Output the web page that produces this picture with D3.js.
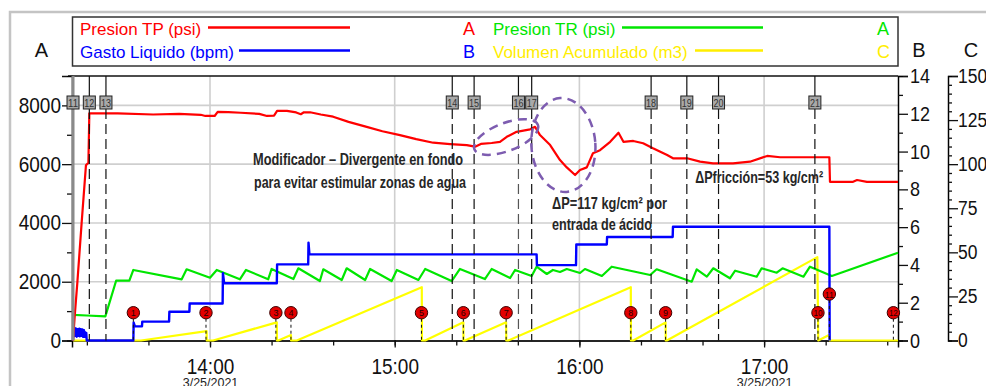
<!DOCTYPE html>
<html>
<head>
<meta charset="utf-8">
<script src="https://cdn.jsdelivr.net/npm/d3@7"></script>
<style>
  html, body { margin: 0; padding: 0; background: #fff; }
  svg { display: block; font-family: "Liberation Sans", Arial, sans-serif; }
</style>
</head>
<body>
<svg id="chart" width="986" height="386"></svg>
<script>
// Times are minutes after 13:00 on 3/25/2021.

// Presion TP (psi) - axis A
const presionTP = [
  [15.5, 0], [16.1, 900], [16.9, 1960], [18.3, 4000], [19.7, 5960], [20.5, 6050], [20.8, 7730],
  [30, 7730], [41.5, 7690], [50, 7710], [57, 7680], [58.5, 7640], [61.5, 7640], [62.5, 7780],
  [66, 7770], [70, 7750], [76, 7710], [78.5, 7640], [80.8, 7650], [81.8, 7810], [85, 7815],
  [88, 7760], [89.5, 7700], [90.5, 7765], [92.5, 7765], [96, 7690], [100, 7615], [105, 7440],
  [110.9, 7270], [116, 7120], [121.7, 6990], [127, 6850], [132.5, 6730], [138, 6685],
  [143.4, 6650], [146.1, 6595], [148, 6690], [151.5, 6720], [154.2, 6760], [156.4, 6930],
  [159.6, 7100], [164, 7185], [165.6, 7270], [167.2, 6990], [170.5, 6650], [173.7, 6140],
  [175.9, 5890], [178.6, 5630], [180.2, 5800], [182.4, 5890], [184.4, 6370], [186.7, 6475],
  [190, 6760], [192.7, 7070], [194.3, 6760], [197.5, 6790], [200.7, 6710], [203.9, 6540],
  [208.5, 6310], [210.4, 6200], [215, 6200], [219.2, 6085], [223.4, 6030], [229.9, 6030],
  [235.4, 6085], [241, 6280], [245.2, 6235], [261.2, 6235], [261.4, 5400], [268.9, 5400],
  [270.2, 5460], [273.4, 5400], [283.5, 5400]
];

// Presion TR (psi) - axis A
const presionTR = [
  [15.5, 870], [20, 850], [26, 820], [29.5, 2035], [33.8, 2035], [35.1, 2400], [50.8, 2082],
  [52.4, 2423], [60, 2137], [62.2, 2400], [69.7, 2082], [71.7, 2400], [78.9, 2082], [80, 2433],
  [87.1, 2090], [88.7, 2457], [95.7, 2024], [96.8, 2423], [102.8, 2059], [104.4, 2457],
  [110.4, 2059], [112, 2433], [119, 2024], [120.7, 2400], [127.7, 2059], [129.9, 2433],
  [138.5, 2024], [141.2, 2433], [149.3, 2090], [151.5, 2433], [157.5, 2127], [159.1, 2400],
  [164.5, 2195], [166.1, 2511], [169.4, 2263], [171.4, 2400], [173.7, 2331], [175.9, 2433],
  [180.2, 2297], [181.8, 2433], [187.3, 2195], [190.5, 2511], [203, 2229], [205.1, 2423],
  [216.5, 2001], [218.1, 2423], [221.4, 2171], [223.5, 2457], [228.9, 2116], [230.6, 2375],
  [237.6, 2171], [239.2, 2457], [244.1, 2307], [246, 2457], [252.8, 2171], [254.9, 2511],
  [262, 2195], [283.5, 2987]
];

// Gasto Liquido (bpm) - axis B
const gastoLiquido = [
  [15.5, 0], [15.55, 0.62], [15.7, 0.2], [15.8, 0.6], [15.95, 0.3], [16.05, 0.66], [16.2, 0.25],
  [16.3, 0.58], [16.45, 0.35], [16.55, 0.63], [16.7, 0.2], [16.8, 0.55], [16.95, 0.3],
  [17.05, 0.6], [17.2, 0.25], [17.3, 0.57], [17.45, 0.3], [17.55, 0.62], [17.7, 0.22],
  [17.8, 0.55], [17.95, 0.35], [18.05, 0.6], [18.2, 0.25], [18.3, 0.5], [18.45, 0.3],
  [18.55, 0.58], [18.7, 0.2], [18.8, 0.52], [18.95, 0.28], [19.05, 0.55], [19.2, 0.2],
  [19.3, 0.45], [19.45, 0.25], [19.55, 0.42], [19.7, 0.2], [19.8, 0.4], [19.95, 0],
  [35.1, 0], [35.2, 0.95], [35.6, 0.75], [37.9, 0.75], [38.0, 1.0], [46.7, 1.0], [46.8, 1.52],
  [53.3, 1.52], [53.4, 1.96], [64.1, 1.96], [64.2, 3.56], [64.6, 3.03], [81.7, 3.03],
  [81.8, 4.03], [91.9, 4.03], [92.0, 5.18], [92.3, 4.56], [166.1, 4.56], [166.2, 3.99],
  [178.9, 3.99], [179.0, 5.08], [188.9, 5.08], [189.0, 5.48], [210.3, 5.48], [210.4, 6.02],
  [261.2, 6.02], [261.3, 0]
];

// Volumen Acumulado (m3) - axis C
const volumenAcumulado = [
  [15.5, 0], [37.6, 0], [58.9, 5.3], [58.95, 0], [61, 0], [81.7, 10.3], [81.75, 0], [82.2, 0],
  [86.3, 3.1], [86.35, 0], [88.2, 0], [128.8, 30.2], [128.85, 0], [129.9, 0], [142.3, 10.3],
  [142.35, 0], [142.8, 0], [156.2, 10.3], [156.25, 0], [156.9, 0], [196.7, 30.2], [196.75, 0],
  [197.5, 0], [208, 10.3], [208.05, 0], [208.4, 0], [257.3, 47.3], [257.6, 0], [261.1, 3.1],
  [261.4, 0], [283.5, 0]
];

// Event marker lines (label, time)
const eventLabels = ["11", "12", "13", "14", "15", "16", "17", "18", "19", "20", "21"];
const eventTimes = [15.5, 20.8, 26.2, 138.7, 145.8, 160.2, 164.5, 203.3, 214.9, 225.2, 256.5];

// Stage markers (label, time, level on axis B)
const stageLabels = ["1", "2", "3", "4", "5", "6", "7", "8", "9", "10", "11", "12"];
const stageTimes = [35.1, 58.7, 81.4, 86.3, 128.7, 142.3, 156.2, 196.7, 208.0, 257.5, 261.2, 282.0];
const stageLevels = [1.47, 1.47, 1.47, 1.47, 1.47, 1.47, 1.47, 1.47, 1.47, 1.47, 2.46, 1.47];

// Axis ticks
const ticksA = [0, 2000, 4000, 6000, 8000];
const minorA = [1000, 3000, 5000, 7000];
const ticksB = [0, 2, 4, 6, 8, 10, 12, 14];
const minorB = [1, 3, 5, 7, 9, 11, 13];
const ticksC = [0, 25, 50, 75, 100, 125, 150];
const minorC = d3.range(5, 150, 5).filter(v => v % 25 !== 0);
const dateLabel = "3/25/2021";
const dateHours = [14, 17];

const T0 = new Date(2021, 2, 25, 13, 0, 0);
const t = m => new Date(T0.getTime() + m * 60000);

const L = 72, R = 898, TOP = 76, BOT = 340.5, CX = 948;
const svg = d3.select("#chart");

const x = d3.scaleTime().domain([t(15.17), t(283.5)]).range([L, R]);
const yA = d3.scaleLinear().domain([0, 9000]).range([BOT, TOP]);
const yB = d3.scaleLinear().domain([0, 14]).range([BOT, TOP]);
const yC = d3.scaleLinear().domain([0, 150]).range([BOT, TOP]);

// tall, slightly condensed look for axis numbers
function stretch(sel, k) {
  sel.each(function () {
    const e = d3.select(this);
    const tx = +e.attr("x") || 0, ty = +e.attr("y") || 0;
    e.attr("x", 0).attr("y", 0).attr("transform", `translate(${tx},${ty}) scale(1,${k})`);
  });
}

// outer frame
svg.append("path").attr("d", "M10,386V12H986")
  .attr("fill", "none").attr("stroke", "#c4c4c4").attr("stroke-width", 2.5);

// grid
const grid = svg.append("g").attr("stroke", "#cfcfcf").attr("stroke-width", 1.6);
grid.selectAll("line.h").data([2000, 4000, 6000, 8000]).join("line")
  .attr("x1", L).attr("x2", R).attr("y1", d => yA(d)).attr("y2", d => yA(d));
grid.selectAll("line.v").data(x.ticks(d3.timeHour.every(1))).join("line")
  .attr("x1", d => x(d)).attr("x2", d => x(d)).attr("y1", TOP).attr("y2", BOT);

// plot frame
svg.append("line").attr("x1", 68).attr("x2", R).attr("y1", TOP).attr("y2", TOP)
  .attr("stroke", "#111").attr("stroke-width", 1.5);

// axes
function styleAxis(g) {
  g.select(".domain").attr("stroke", "#111").attr("stroke-width", 1.5);
  g.selectAll(".tick line").attr("stroke", "#111").attr("stroke-width", 1.3);
  g.selectAll("text").attr("fill", "#111").attr("font-family", "Liberation Sans, Arial, sans-serif");
}

const gA = svg.append("g").attr("transform", `translate(${L},0)`)
  .call(d3.axisLeft(yA).tickValues(ticksA).tickSize(10).tickPadding(1).tickFormat(d3.format("d")));
gA.append("g").call(d3.axisLeft(yA).tickValues(minorA).tickSize(5).tickFormat(""));
gA.selectAll("text").attr("font-size", 19);
styleAxis(gA);
stretch(gA.selectAll("text"), 1.15);

const gB = svg.append("g").attr("transform", `translate(${R},0)`)
  .call(d3.axisRight(yB).tickValues(ticksB).tickSize(10).tickPadding(2).tickFormat(d3.format("d")));
gB.append("g").call(d3.axisRight(yB).tickValues(minorB).tickSize(5).tickFormat(""));
gB.selectAll("text").attr("font-size", 18);
styleAxis(gB);
stretch(gB.selectAll("text"), 1.15);

const gC = svg.append("g").attr("transform", `translate(${CX},0)`)
  .call(d3.axisRight(yC).tickValues(ticksC).tickSize(10).tickPadding(0).tickFormat(d3.format("d")));
gC.append("g").call(d3.axisRight(yC).tickValues(minorC).tickSize(4).tickFormat(""));
gC.selectAll("text").attr("font-size", 17.5);
styleAxis(gC);
stretch(gC.selectAll("text"), 1.15);

const gX = svg.append("g").attr("transform", `translate(0,${BOT})`)
  .call(d3.axisBottom(x).ticks(d3.timeHour.every(1)).tickSize(7).tickPadding(10.5)
    .tickFormat(d3.timeFormat("%H:%M")));
const majorTicks = gX.selectAll(":scope > .tick");
gX.append("g").call(d3.axisBottom(x).ticks(d3.timeMinute.every(20)).tickSize(5).tickFormat(""));
gX.selectAll("text").attr("font-size", 19);
styleAxis(gX);
stretch(gX.selectAll("text"), 1.2);
majorTicks.filter(d => dateHours.includes(d.getHours()))
  .append("text").attr("y", 46.5).attr("text-anchor", "middle")
  .attr("font-size", 12.5).attr("fill", "#222").text(dateLabel);

// axis headers
svg.append("g").attr("font-size", 20).attr("fill", "#111").attr("text-anchor", "middle")
  .selectAll("text").data([["A", 41.5], ["B", 919], ["C", 971]]).join("text")
  .attr("x", d => d[1]).attr("y", 56.5).text(d => d[0]);

// event lines
const evG = svg.append("g");
eventTimes.forEach((m, i) => {
  const xx = x(t(m));
  if (i === 0) {
    evG.append("line").attr("x1", xx).attr("x2", xx).attr("y1", TOP).attr("y2", BOT)
      .attr("stroke", "#8a8a8a").attr("stroke-width", 3);
  } else {
    evG.append("line").attr("x1", xx).attr("x2", xx).attr("y1", TOP).attr("y2", 96)
      .attr("stroke", "#111").attr("stroke-width", 1.2);
    evG.append("line").attr("x1", xx).attr("x2", xx).attr("y1", 109).attr("y2", BOT)
      .attr("stroke", i === 5 ? "#555" : "#111").attr("stroke-width", 1.2)
      .attr("stroke-dasharray", "10,5");
  }
});

// series
const line = (ys) => d3.line().x(d => x(t(d[0]))).y(d => ys(d[1]));
const series = [
  [volumenAcumulado, yC, "#ffff00", 2.2],
  [presionTR, yA, "#00e600", 2.2],
  [gastoLiquido, yB, "#0000ff", 2.4],
  [presionTP, yA, "#ff0000", 2.2]
];
series.forEach(([data, ys, color, w]) => {
  svg.append("path").datum(data).attr("d", line(ys))
    .attr("fill", "none").attr("stroke", color).attr("stroke-width", w)
    .attr("stroke-linejoin", "round");
});

// event label boxes
eventTimes.forEach((m, i) => {
  const xx = x(t(m));
  const g = evG.append("g").attr("transform", `translate(${xx},102.5)`);
  g.append("rect").attr("x", -6).attr("y", -6.5).attr("width", 12).attr("height", 13)
    .attr("fill", "#a9a9a9").attr("stroke", "#222").attr("stroke-width", 1);
  g.append("text").attr("text-anchor", "middle").attr("y", 4)
    .attr("font-size", 10.5).attr("fill", "#333").attr("textLength", 10)
    .attr("lengthAdjust", "spacingAndGlyphs").text(eventLabels[i]);
});
evG.raise();

// stage markers
const stG = svg.append("g");
stageTimes.forEach((m, i) => {
  const xx = x(t(m)), yy = yB(stageLevels[i]);
  stG.append("line").attr("x1", xx).attr("x2", xx).attr("y1", yy + 6).attr("y2", BOT)
    .attr("stroke", "#111").attr("stroke-width", 1).attr("stroke-dasharray", "3,3");
  stG.append("circle").attr("cx", xx).attr("cy", yy).attr("r", 6.2)
    .attr("fill", "#e30000").attr("stroke", "#3a0000").attr("stroke-width", 1);
  stG.append("text").attr("x", xx).attr("y", yy + 3.5).attr("text-anchor", "middle")
    .attr("font-size", 9.5).attr("fill", "#2a0000")
    .attr("textLength", stageLabels[i].length > 1 ? 9 : 5)
    .attr("lengthAdjust", "spacingAndGlyphs").text(stageLabels[i]);
});

// legend
const lg = svg.append("g");
lg.append("rect").attr("x", 72.5).attr("y", 17).attr("width", 825.5).attr("height", 49)
  .attr("fill", "#fff").attr("stroke", "#333").attr("stroke-width", 1.5);
const legendItems = [
  ["Presion TP (psi)", "#ff0000", 80, 35, 208, 350, 27.5, "A", 463],
  ["Gasto Liquido (bpm)", "#0000ff", 80, 58, 239, 350, 50.5, "B", 463],
  ["Presion TR (psi)", "#00e600", 493, 35, 622, 763, 27.5, "A", 877],
  ["Volumen Acumulado (m3)", "#ffee00", 493, 58, 695, 763, 50.5, "C", 877]
];
legendItems.forEach(([label, color, tx, ty, l1, l2, ly, ax, axx]) => {
  lg.append("text").attr("x", tx).attr("y", ty).attr("font-size", 17).attr("fill", color).text(label);
  lg.append("line").attr("x1", l1).attr("x2", l2).attr("y1", ly).attr("y2", ly)
    .attr("stroke", color).attr("stroke-width", 2.5);
  lg.append("text").attr("x", axx).attr("y", ty).attr("font-size", 18).attr("fill", color).text(ax);
});

// annotations
const ann = svg.append("g").attr("fill", "#262626").attr("font-weight", "bold")
  .attr("font-family", "Liberation Sans Narrow, Arial Narrow, Liberation Sans, sans-serif")
  .attr("font-size", 16.5);
const notes = [
  ["Modificador \u2013 Divergente en fondo", 74.0, 165, 210],
  ["para evitar estimular zonas de agua", 74.3, 188, 212],
  ["\u0394P=117 kg/cm\u00b2 por", 171.1, 209, 115],
  ["entrada de \u00e1cido", 171.1, 230, 100],
  ["\u0394Pfricci\u00f3n=53 kg/cm\u00b2", 217.6, 183, 128]
];
notes.forEach(([txt, m, by, w]) => {
  ann.append("text").attr("x", x(t(m))).attr("y", by)
    .attr("textLength", w).attr("lengthAdjust", "spacingAndGlyphs").text(txt);
});

// highlight ellipses
const ell = [
  [156.2, 6924, 34, 14, -21],
  [174.8, 6652, 32, 47, -4]
];
ell.forEach(([m, p, rx, ry, rot]) => {
  svg.append("ellipse").attr("cx", 0).attr("cy", 0).attr("rx", rx).attr("ry", ry)
    .attr("transform", `translate(${x(t(m))},${yA(p)}) rotate(${rot})`)
    .attr("fill", "none").attr("stroke", "#7d5cb0").attr("stroke-width", 2.5)
    .attr("stroke-dasharray", "9,6");
});
</script>
</body>
</html>
